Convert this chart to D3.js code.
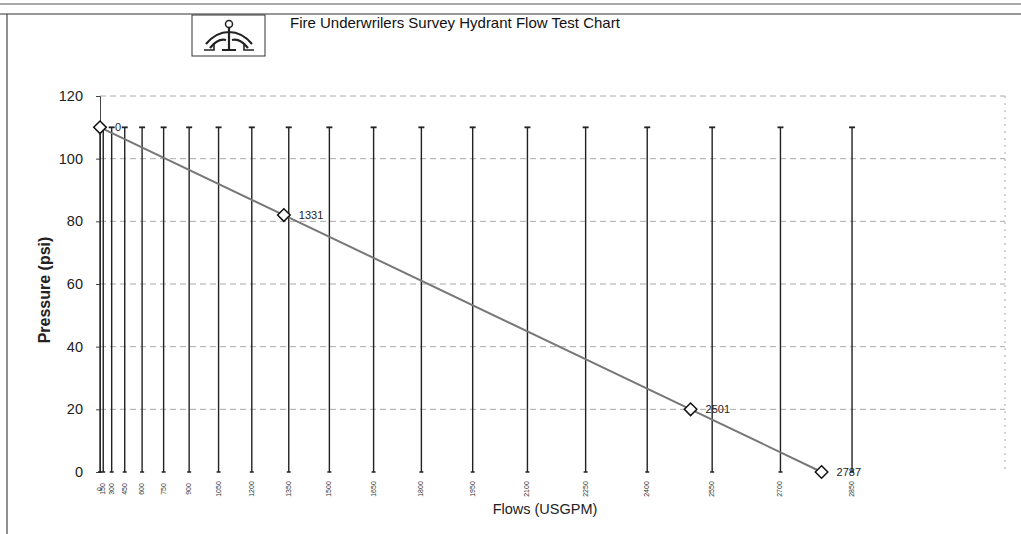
<!DOCTYPE html>
<html><head><meta charset="utf-8">
<script src="https://cdn.jsdelivr.net/npm/d3@7"></script>
<style>html,body{margin:0;padding:0;background:#fff;}svg{display:block;}</style>
</head><body>
<script>
const flows = [0, 1331, 2501, 2787];
const pressures = [110, 82, 20, 0];
const pointLabels = ["0", "1331", "2501", "2787"];
const flowTicks = [0,150,300,450,600,750,900,1050,1200,1350,1500,1650,1800,1950,2100,2250,2400,2550,2700,2850];
const pressureTicks = [0,20,40,60,80,100,120];
const barTop = 110;
const title = "Fire Underwrilers Survey Hydrant Flow Test Chart";
const W = 1021, H = 534;
const svg = d3.select("body").append("svg").attr("width", W).attr("height", H).style("font-family","Arial, 'Liberation Sans', sans-serif");

// frame
svg.append("line").attr("x1",0).attr("x2",W).attr("y1",4).attr("y2",4).attr("stroke","#555").attr("stroke-width",1);
svg.append("line").attr("x1",0).attr("x2",W).attr("y1",14).attr("y2",14).attr("stroke","#333").attr("stroke-width",1.2);
svg.append("line").attr("x1",7).attr("x2",7).attr("y1",14).attr("y2",H).attr("stroke","#444").attr("stroke-width",1.2);

const x = d3.scalePow().exponent(1.85).domain([0, 3150]).range([100, 1005]);
const y = d3.scaleLinear().domain([0, 120]).range([472, 96]);

// logo box
const logo = svg.append("g");
logo.append("rect").attr("x",192).attr("y",15).attr("width",73).attr("height",41).attr("fill","none").attr("stroke","#333").attr("stroke-width",1);
logo.append("circle").attr("cx",229).attr("cy",24).attr("r",3.5).attr("fill","none").attr("stroke","#222").attr("stroke-width",1.5);
logo.append("path").attr("d","M229,28 L229,50 M206,44 Q216,32 229,32 Q242,32 252,44 M210,48 Q218,38 226,40 M248,48 Q240,38 232,40 M222,50 L236,50")
  .attr("fill","none").attr("stroke","#222").attr("stroke-width",2.2);
logo.append("path").attr("d","M204,50 L214,50 L214,44 M244,44 L244,50 L254,50").attr("fill","none").attr("stroke","#222").attr("stroke-width",1.6);

svg.append("text").attr("x",290).attr("y",28).attr("font-size",15).attr("fill","#111").text(title);

// horizontal gridlines
svg.append("g").selectAll("line").data(pressureTicks.filter(d=>d>0)).join("line")
  .attr("x1",100).attr("x2",1005).attr("y1",d=>y(d)).attr("y2",d=>y(d))
  .attr("stroke","#aaa").attr("stroke-width",1).attr("stroke-dasharray","6,4");
svg.append("line").attr("x1",1005).attr("x2",1005).attr("y1",y(120)).attr("y2",y(0))
  .attr("stroke","#aaa").attr("stroke-width",1).attr("stroke-dasharray","2,5");

// y axis
const yAxis = svg.append("g").attr("transform","translate(100,0)")
  .call(d3.axisLeft(y).tickValues(pressureTicks).tickSize(4).tickPadding(13));
yAxis.select(".domain").attr("stroke","#444");
yAxis.selectAll("line").attr("stroke","#444");
yAxis.selectAll("text").attr("font-size",14.5).attr("fill","#222").attr("font-family","Arial, 'Liberation Sans', sans-serif");

// vertical flow lines
const vg = svg.append("g");
vg.selectAll("line.v").data(flowTicks).join("line").attr("class","v")
  .attr("x1",d=>x(d)).attr("x2",d=>x(d)).attr("y1",y(0)).attr("y2",y(barTop))
  .attr("stroke","#222").attr("stroke-width",1.4);
vg.selectAll("line.cap").data(flowTicks).join("line").attr("class","cap")
  .attr("x1",d=>x(d)-3).attr("x2",d=>x(d)+3).attr("y1",y(barTop)).attr("y2",y(barTop))
  .attr("stroke","#222").attr("stroke-width",1.8);
vg.selectAll("line.bcap").data(flowTicks).join("line").attr("class","bcap")
  .attr("x1",d=>x(d)-2).attr("x2",d=>x(d)+2).attr("y1",y(0)).attr("y2",y(0))
  .attr("stroke","#222").attr("stroke-width",1.5);

// x tick labels (rotated)
svg.append("g").selectAll("text").data(flowTicks).join("text")
  .attr("transform",d=>`translate(${x(d)+2},${y(0)+17}) rotate(-90)`)
  .attr("text-anchor","middle").attr("font-size",7).attr("fill","#333").text(d=>d);

// data line
const pts = flows.map((f,i)=>({f, p: pressures[i], l: pointLabels[i]}));
svg.append("path").datum(pts).attr("d", d3.line().x(d=>x(d.f)).y(d=>y(d.p)))
  .attr("fill","none").attr("stroke","#777").attr("stroke-width",2);
svg.append("g").selectAll("path").data(pts).join("path")
  .attr("d", d3.symbol(d3.symbolDiamond2, 100))
  .attr("transform", d=>`translate(${x(d.f)},${y(d.p)})`)
  .attr("fill","#fff").attr("stroke","#111").attr("stroke-width",1.5);
svg.append("g").selectAll("text").data(pts).join("text")
  .attr("x", d=>x(d.f)+15).attr("y", d=>y(d.p)+4)
  .attr("font-size",11).attr("fill","#222").text(d=>d.l);

// axis titles
svg.append("text").attr("transform","translate(50,290) rotate(-90)").attr("text-anchor","middle")
  .attr("font-size",16).attr("font-weight","bold").attr("fill","#222").text("Pressure (psi)");
svg.append("text").attr("x",545).attr("y",514).attr("text-anchor","middle")
  .attr("font-size",14.5).attr("fill","#222").text("Flows (USGPM)");
</script>
</body></html>
